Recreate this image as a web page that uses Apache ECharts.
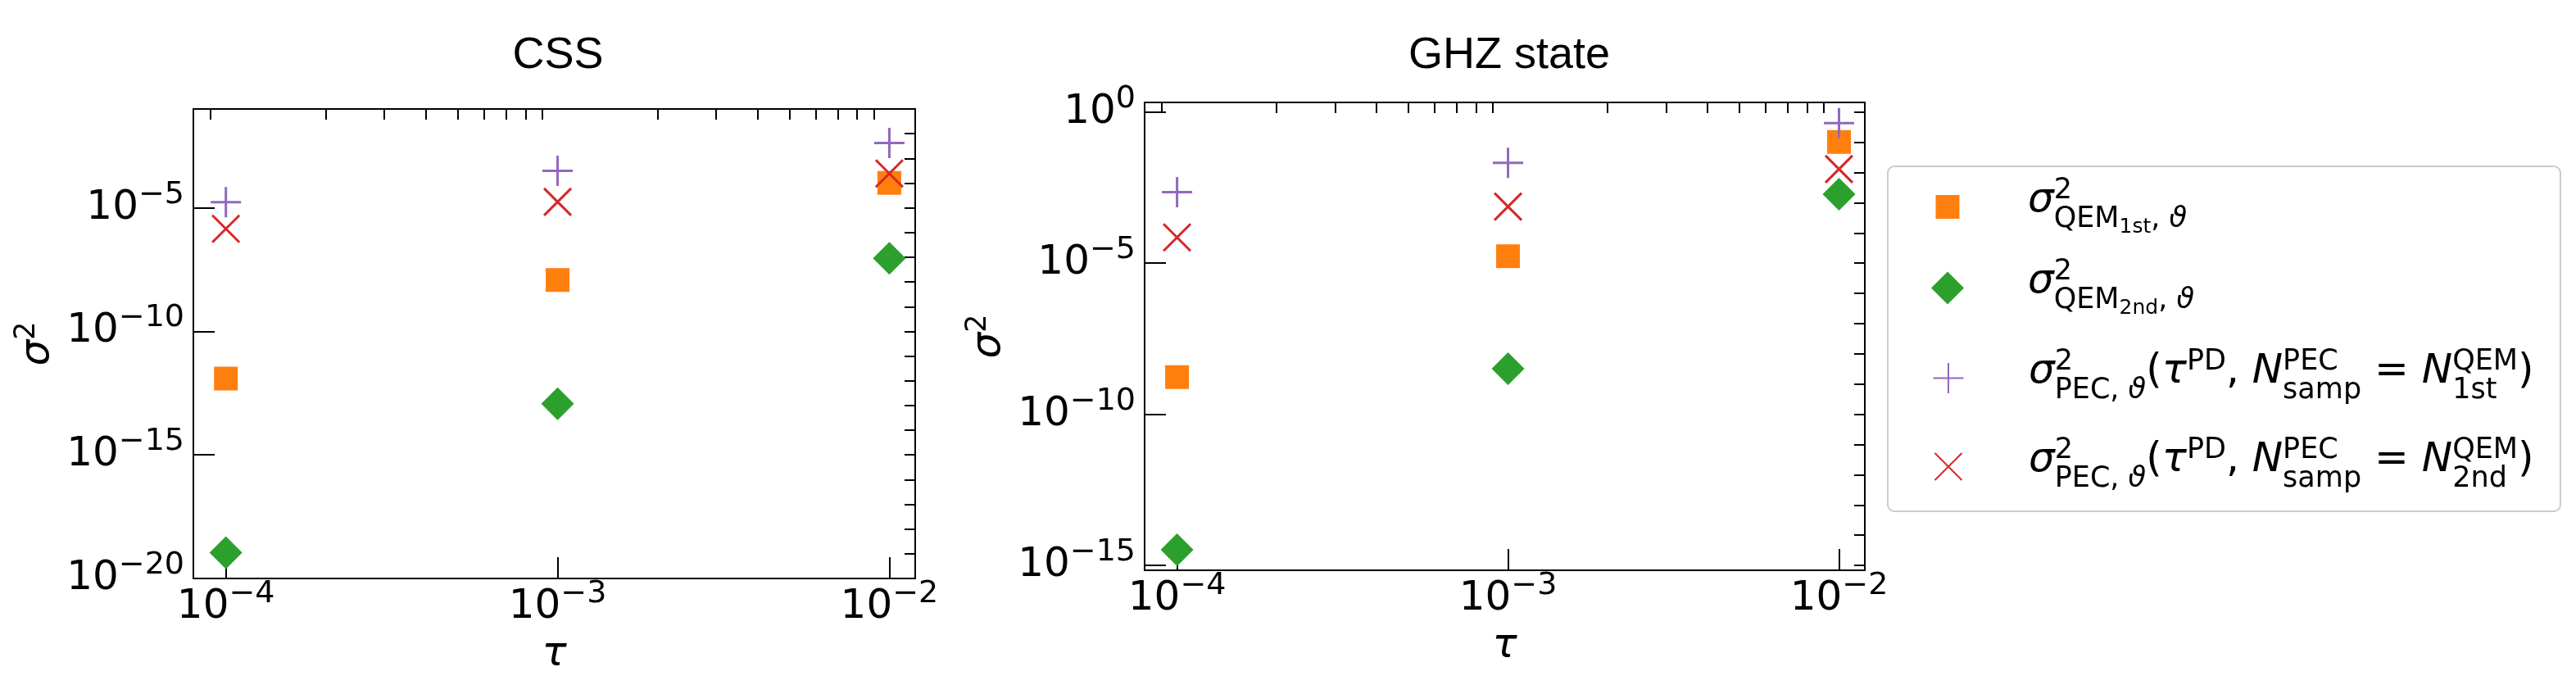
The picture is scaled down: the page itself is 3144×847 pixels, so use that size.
<!DOCTYPE html>
<html>
<head>
<meta charset="utf-8">
<script src="https://cdn.jsdelivr.net/npm/echarts@6/dist/echarts.min.js"></script>
<style>
  html, body { margin: 0; padding: 0; background: #fff; }
  #chart { width: 3144px; height: 847px; }
</style>
</head>
<body>
<div id="chart"></div>
<script>
// x values shared by both panels
const tau = [1e-4, 1e-3, 1e-2];

// CSS panel (sigma^2)
const cssQem1st = [1.23e-12, 1.20e-8, 1.02e-4];
const cssQem2nd = [1.10e-19, 1.17e-13, 9.1e-8];
const cssPec1st = [1.70e-5, 3.16e-4, 4.17e-3];
const cssPec2nd = [1.41e-6, 1.74e-5, 2.45e-4];

// GHZ state panel
const ghzQem1st = [1.70e-9, 1.70e-5, 0.102];
const ghzQem2nd = [3.31e-15, 3.24e-9, 1.91e-3];
const ghzPec1st = [2.24e-3, 2.09e-2, 0.427];
const ghzPec2nd = [7.08e-5, 7.41e-4, 1.29e-2];

// major tick values
const xMajor = [1e-4, 1e-3, 1e-2];
const cssYMajor = [1e-20, 1e-15, 1e-10, 1e-5];
const ghzYMajor = [1e-15, 1e-10, 1e-5, 1];

// minor ticks: 2..9 per decade on x, one per decade on y
const xMinor = [9e-5];
[1e-4, 1e-3].forEach(d => { for (let k = 2; k <= 9; k++) xMinor.push(k * d); });
const decades = (a, b) => { const out = []; for (let e = a; e <= b; e++) out.push(Math.pow(10, e)); return out; };
const cssYMinor = decades(-20, -1);
const ghzYMinor = decades(-15, 0);

const F = 'DejaVu Sans';
const C = { orange: '#ff7f0e', green: '#2ca02c', purple: '#9467bd', red: '#d62728' };

const tickRich = {
  b: { fontFamily: F, fontSize: 50, color: '#000' },
  e: { fontFamily: F, fontSize: 38, color: '#000', padding: [0, 0, 32, 0] }
};
function powLabel(v) {
  const e = Math.round(Math.log10(v));
  return '{b|10}{e|' + (e < 0 ? '\u2212' + (-e) : e) + '}';
}

const nameRich = {
  m: { fontFamily: F, fontSize: 50, fontStyle: 'italic', color: '#000' },
  up: { fontFamily: F, fontSize: 35, color: '#000', padding: [0, 0, 28, 0] }
};

function xAxes(gi) {
  const base = {
    type: 'log', gridIndex: gi, min: Math.pow(10, -4.098), max: Math.pow(10, -1.922),
    splitLine: { show: false }, axisLine: { show: false }
  };
  return [
    Object.assign({}, base, {
      name: '{m|\u03c4}', nameLocation: 'middle', nameGap: 68,
      nameTextStyle: { rich: nameRich },
      axisTick: { inside: true, length: 26, lineStyle: { color: '#000', width: 2 }, customValues: xMajor },
      axisLabel: { margin: 0, formatter: powLabel, rich: tickRich, customValues: xMajor }
    }),
    Object.assign({}, base, {
      axisTick: { inside: true, length: 13, lineStyle: { color: '#000', width: 2 }, customValues: xMinor },
      axisLabel: { show: false }
    })
  ];
}
function yAxes(gi, min, max, major, minor) {
  const base = {
    type: 'log', gridIndex: gi, min: min, max: max,
    splitLine: { show: false }, axisLine: { show: false }
  };
  return [
    Object.assign({}, base, {
      name: '{m|\u03c3}{up|2}', nameLocation: 'middle', nameGap: 158,
      nameTextStyle: { rich: nameRich },
      axisTick: { inside: true, length: 26, lineStyle: { color: '#000', width: 2 }, customValues: major },
      axisLabel: { margin: 11, formatter: powLabel, rich: tickRich, customValues: major }
    }),
    Object.assign({}, base, {
      axisTick: { inside: true, length: 13, lineStyle: { color: '#000', width: 2 }, customValues: minor },
      axisLabel: { show: false }
    })
  ];
}

const names = ['qem1', 'qem2', 'pec1', 'pec2'];
const looks = [
  { symbol: 'rect', symbolSize: 29, itemStyle: { color: C.orange, opacity: 1 } },
  { symbol: 'diamond', symbolSize: 40, itemStyle: { color: C.green, opacity: 1 } },
  { symbol: 'path://M0,5L10,5M5,0L5,10', symbolSize: 37,
    itemStyle: { color: 'rgba(0,0,0,0)', borderColor: C.purple, borderWidth: 3, opacity: 1 } },
  { symbol: 'path://M0,0L10,10M10,0L0,10', symbolSize: 33,
    itemStyle: { color: 'rgba(0,0,0,0)', borderColor: C.red, borderWidth: 3, opacity: 1 } }
];
const panels = [
  { axis: 0, ys: [cssQem1st, cssQem2nd, cssPec1st, cssPec2nd] },
  { axis: 2, ys: [ghzQem1st, ghzQem2nd, ghzPec1st, ghzPec2nd] }
];
const series = [];
panels.forEach(p => {
  p.ys.forEach((ys, i) => {
    series.push(Object.assign({
      name: names[i], type: 'scatter', xAxisIndex: p.axis, yAxisIndex: p.axis,
      data: tau.map((t, j) => [t, ys[j]]), clip: false,
      emphasis: { disabled: true }
    }, looks[i]));
  });
});

// legend text (matplotlib mathtext imitation)
const legRich = {
  m: { fontFamily: F, fontSize: 50, fontStyle: 'italic', color: '#000' },
  r: { fontFamily: F, fontSize: 50, color: '#000' },
  up: { fontFamily: F, fontSize: 35, color: '#000', padding: [0, 0, 26, 0] },
  up0: { fontFamily: F, fontSize: 35, color: '#000', padding: [0, 0, 26, 0], width: 0 },
  dn: { fontFamily: F, fontSize: 35, color: '#000', padding: [44, 0, 0, 0] },
  dni: { fontFamily: F, fontSize: 35, fontStyle: 'italic', color: '#000', padding: [44, 0, 0, 0] },
  dn0: { fontFamily: F, fontSize: 35, color: '#000', padding: [44, 0, 0, 0], width: 0 },
  dd: { fontFamily: F, fontSize: 25, color: '#000', padding: [63, 0, 0, 0] }
};
const legText = [
  '{m|\u03c3}{up0|2}{dn|QEM}{dd|1st}{dn|, }{dni|\u03d1}',
  '{m|\u03c3}{up0|2}{dn|QEM}{dd|2nd}{dn|, }{dni|\u03d1}',
  '{m|\u03c3}{up0|2}{dn|PEC, }{dni|\u03d1}{r|(}{m|\u03c4}{up|PD}{r|, }{m|N}{up0|PEC}{dn|samp}{r| = }{m|N}{dn0|1st}{up|QEM}{r|)}',
  '{m|\u03c3}{up0|2}{dn|PEC, }{dni|\u03d1}{r|(}{m|\u03c4}{up|PD}{r|, }{m|N}{up0|PEC}{dn|samp}{r| = }{m|N}{dn0|2nd}{up|QEM}{r|)}'
];
const legTop = [215, 314, 424, 532];
const iconX = 2377, textX = 2475;
const legend = names.map((n, i) => {
  const w = looks[i].symbolSize;
  const rich = Object.assign({ sp: { width: textX - (iconX + w / 2 + 5) } }, legRich);
  return {
    data: [n], left: iconX - w / 2, top: legTop[i],
    padding: 0, itemWidth: w, itemHeight: w, selectedMode: false,
    formatter: () => '{sp|}' + legText[i],
    textStyle: { rich: rich, padding: [0, 0, 14, 0] }
  };
});

const chart = echarts.init(document.getElementById('chart'));
chart.setOption({
  animation: false,
  backgroundColor: '#fff',
  title: [
    { text: 'CSS', left: 676, top: 36, textAlign: 'center',
      textStyle: { fontFamily: 'Liberation Sans', fontSize: 54, fontWeight: 'normal', color: '#000' } },
    { text: 'GHZ state', left: 1837, top: 36, textAlign: 'center',
      textStyle: { fontFamily: 'Liberation Sans', fontSize: 54, fontWeight: 'normal', color: '#000' } }
  ],
  grid: [
    { left: 236, top: 133, width: 881, height: 573, show: true, borderColor: '#000', borderWidth: 2 },
    { left: 1397, top: 125, width: 879, height: 571, show: true, borderColor: '#000', borderWidth: 2 }
  ],
  xAxis: xAxes(0).concat(xAxes(1)),
  yAxis: yAxes(0, 1e-20, 1e-1, cssYMajor, cssYMinor)
    .concat(yAxes(1, Math.pow(10, -15.16), Math.pow(10, 0.317), ghzYMajor, ghzYMinor)),
  legend: legend,
  graphic: [{
    type: 'rect', z: 0,
    shape: { x: 2304, y: 203, width: 821, height: 421, r: 8 },
    style: { fill: '#fff', stroke: '#cccccc', lineWidth: 2 }
  }],
  series: series
});
</script>
</body>
</html>
